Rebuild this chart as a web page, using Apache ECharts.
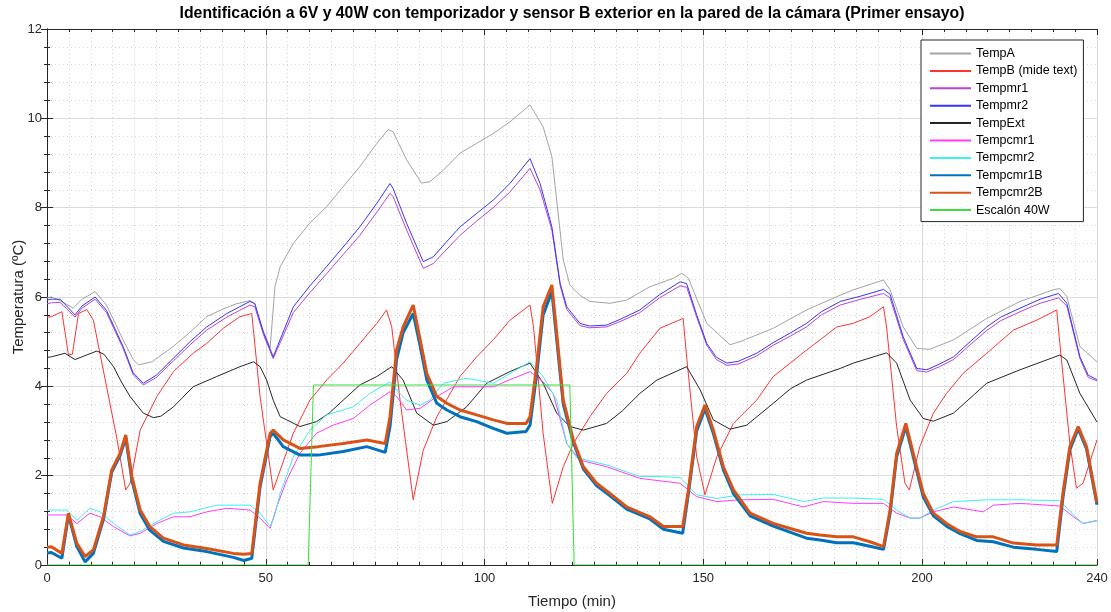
<!DOCTYPE html>
<html>
<head>
<meta charset="utf-8">
<script src="https://cdn.jsdelivr.net/npm/echarts@6/dist/echarts.min.js"></script>
<style>
  html, body { margin: 0; padding: 0; background: #fff; }
  #chart { width: 1111px; height: 612px; }
</style>
</head>
<body>
<div id="chart"></div>
<script>
// series data: [tiempo (min), temperatura (ºC)]
var tempA = [[0,5.98],[1,6.0],[3,5.92],[6,5.75],[8,5.95],[11,6.12],[13.6,5.82],[17.4,5.04],[19.7,4.6],[20.9,4.48],[24,4.55],[28.8,4.89],[32,5.15],[36.5,5.56],[40,5.72],[43,5.84],[46.4,5.92],[47.5,5.85],[49,5.35],[51,4.86],[52.1,6.23],[53.3,6.68],[56.3,7.2],[60.1,7.66],[63.9,8.02],[67.7,8.47],[71.5,8.92],[75.4,9.44],[78,9.75],[79.1,9.7],[82.2,9.07],[85.6,8.55],[87.5,8.58],[90.6,8.84],[94.4,9.22],[98.2,9.44],[102,9.66],[105.8,9.92],[110.4,10.3],[113.4,9.81],[115.4,9.14],[116.5,8.17],[118,6.83],[119.5,6.27],[121.8,6.04],[124.1,5.9],[128.7,5.86],[132.5,5.93],[137.8,6.23],[143.2,6.42],[145.1,6.53],[146.6,6.42],[150.8,5.41],[156.1,4.93],[158.4,5.0],[166,5.3],[173.6,5.71],[181.3,6.04],[184.3,6.16],[191.2,6.38],[192.7,6.16],[195.7,5.33],[198.8,4.85],[201.8,4.83],[207.2,5.04],[214.8,5.52],[222.4,5.9],[230,6.16],[231.5,6.19],[233.1,6.01],[236.1,4.89],[240,4.55]];

var tempB = [[0,5.55],[1,5.56],[3.4,5.67],[4.9,4.7],[5.8,4.72],[7.2,5.63],[9.1,5.72],[10.6,5.48],[13.6,4.0],[15.9,2.87],[18,1.68],[19,1.83],[21.3,3.02],[25.1,3.77],[28.9,4.33],[33.4,4.74],[36.5,4.96],[40.3,5.3],[44.1,5.56],[46.8,5.63],[48.7,3.77],[51.7,1.68],[56.3,2.95],[60.1,3.69],[63.9,4.14],[67.7,4.52],[71.5,4.96],[75.4,5.41],[77.6,5.71],[78.8,5.33],[80.7,3.69],[83.7,1.46],[86,2.57],[89.1,3.32],[94.4,4.22],[98.2,4.66],[102,5.04],[105.8,5.48],[110.4,5.82],[111.2,5.33],[113.4,2.95],[115.5,1.38],[118,2.2],[120.3,2.72],[124.1,3.32],[127.9,3.84],[132.5,4.29],[135.5,4.74],[140.1,5.3],[145.4,5.52],[146.2,4.66],[148.5,2.42],[150.4,1.57],[153.1,2.42],[156.9,3.17],[162.2,3.69],[166,4.22],[173.6,4.81],[176.7,5.04],[180.5,5.33],[184.3,5.41],[188.1,5.56],[191.2,5.78],[191.9,5.33],[194.2,3.1],[196.1,1.83],[197.1,1.68],[199.5,2.65],[202.6,3.4],[205.6,3.84],[209.4,4.29],[214.8,4.74],[220.9,5.26],[226.2,5.48],[230.8,5.71],[231.5,4.96],[233.8,2.72],[235.3,1.72],[236.8,1.83],[240,2.8]];

var tempMr1 = [[0,5.85],[1,5.87],[3,5.88],[6.4,5.55],[8,5.75],[11,5.95],[13.6,5.65],[17.4,4.85],[19.7,4.26],[22,4.03],[25,4.2],[28.9,4.57],[32.7,4.93],[36.5,5.26],[41.1,5.55],[44,5.7],[46.4,5.82],[47.5,5.78],[49.5,5.15],[51.7,4.62],[56.3,5.65],[60.1,6.1],[63.9,6.52],[67.7,6.95],[71.5,7.38],[75.4,7.9],[78.4,8.32],[79.1,8.25],[82.2,7.5],[86,6.64],[88.3,6.75],[91,7.03],[94.4,7.38],[98.2,7.7],[102,8.0],[105.8,8.35],[110.4,8.88],[112.7,8.4],[115.4,7.5],[117.3,6.25],[118.8,5.72],[121.8,5.36],[124,5.31],[127.9,5.33],[131,5.45],[135.5,5.65],[140,5.98],[144.7,6.25],[146.2,6.22],[148.5,5.55],[150.8,4.92],[153,4.6],[155.4,4.47],[158,4.5],[162.2,4.68],[166,4.92],[170,5.13],[173.6,5.33],[177,5.6],[181.3,5.82],[186,5.95],[191.2,6.08],[192.7,5.98],[195.7,5.05],[198.8,4.35],[201.1,4.32],[204,4.44],[207.2,4.6],[211,4.93],[214.8,5.25],[218,5.47],[222.4,5.67],[227,5.86],[231.2,5.98],[233.1,5.8],[236.1,4.62],[238,4.2],[240,4.12]];

var tempMr2 = [[0,5.93],[1,5.95],[3,5.95],[6.4,5.6],[8,5.8],[11,6.0],[13.6,5.7],[17.4,4.89],[19.7,4.3],[22,4.07],[25,4.25],[28.9,4.63],[32.7,5.0],[36.5,5.33],[41.1,5.63],[44,5.78],[46.4,5.9],[47.5,5.85],[49.5,5.2],[51.7,4.66],[56.3,5.78],[60.1,6.25],[63.9,6.68],[67.7,7.12],[71.5,7.57],[75.4,8.1],[78.4,8.54],[79.1,8.43],[82.2,7.65],[86,6.79],[88.3,6.9],[91,7.2],[94.4,7.57],[98.2,7.87],[102,8.17],[105.8,8.54],[110.4,9.1],[112.7,8.54],[115.4,7.57],[117.3,6.3],[118.8,5.78],[121.8,5.41],[124,5.35],[127.9,5.37],[131,5.5],[135.5,5.71],[140,6.05],[144.7,6.34],[146.2,6.3],[148.5,5.6],[150.8,4.96],[153,4.65],[155.4,4.52],[158,4.56],[162.2,4.74],[166,4.98],[170,5.2],[173.6,5.41],[177,5.67],[181.3,5.9],[186,6.02],[191.2,6.17],[192.7,6.06],[195.7,5.11],[198.8,4.4],[201.1,4.37],[204,4.5],[207.2,4.66],[211,5.0],[214.8,5.33],[218,5.55],[222.4,5.75],[227,5.95],[231.2,6.08],[233.1,5.86],[236.1,4.66],[238,4.25],[240,4.15]];

var tempExt = [[0,4.65],[1,4.66],[4.1,4.74],[6.4,4.6],[11.4,4.79],[13,4.72],[15.2,4.44],[17,4.1],[19,3.77],[22,3.4],[24.3,3.3],[26,3.33],[28.9,3.54],[31,3.75],[33.4,3.99],[38.8,4.22],[44.1,4.44],[47.2,4.55],[48.7,4.44],[50.2,4.14],[51.7,3.69],[53.3,3.32],[54.8,3.25],[57.8,3.1],[61.6,3.21],[64.5,3.4],[67.7,3.69],[71.5,4.03],[75.4,4.22],[78.8,4.44],[81.4,4.14],[84.5,3.4],[88.3,3.13],[91.4,3.21],[95.9,3.54],[100.5,4.07],[105.8,4.33],[110.4,4.52],[113.4,4.07],[116.5,3.4],[119.5,3.1],[122.6,3.02],[127.9,3.17],[131.5,3.45],[135.5,3.84],[139.4,4.14],[146.2,4.44],[149.3,3.92],[152.3,3.25],[156.1,3.04],[159.9,3.13],[166,3.62],[170,3.95],[173.6,4.14],[181.3,4.4],[184.3,4.52],[191.9,4.75],[194.2,4.52],[197.3,3.69],[200.3,3.28],[202.6,3.22],[207.2,3.4],[214.8,4.07],[222.4,4.37],[231.5,4.7],[233.1,4.59],[236.1,3.84],[240,3.2]];

var tempCmr1 = [[0,1.12],[1,1.12],[4.6,1.12],[6.8,0.93],[9.8,1.16],[12.1,1.08],[15.2,0.86],[19,0.65],[21.3,0.71],[25.1,0.93],[28.9,1.08],[32.7,1.08],[36.5,1.19],[41.1,1.27],[46.4,1.23],[48.7,1.05],[51,0.82],[52.5,1.3],[54.8,1.9],[57.8,2.5],[61.6,2.95],[65.4,3.13],[70,3.28],[73.8,3.58],[78.4,3.88],[79.9,3.77],[82.2,3.47],[85.3,3.51],[89.1,3.77],[92.9,3.99],[98.2,3.99],[102,3.99],[106.6,4.18],[110.4,4.33],[113.4,4.1],[115.7,3.84],[118.8,2.72],[121.8,2.35],[127.9,2.2],[135.5,1.94],[144.7,1.83],[148.5,1.53],[153.1,1.42],[158.4,1.46],[166,1.47],[172.9,1.3],[177.4,1.42],[184.3,1.38],[191.2,1.38],[194.2,1.16],[197.3,1.05],[199.5,1.05],[202.6,1.19],[207.2,1.3],[214,1.19],[216.3,1.34],[222.4,1.38],[231.5,1.32],[234.6,1.08],[236.8,0.93],[240,0.99]];

var tempCmr2 = [[0,1.23],[1,1.23],[4.6,1.23],[6.8,1.0],[9.8,1.27],[12.1,1.19],[15.2,0.93],[19,0.67],[21.3,0.75],[25.1,0.97],[28.9,1.16],[32.7,1.19],[38.8,1.34],[46.4,1.34],[48.7,1.16],[51,0.86],[52,1.1],[53.3,1.6],[56.3,2.42],[60.1,3.02],[63.9,3.36],[70,3.54],[73.8,3.84],[78.4,4.1],[79.9,3.92],[82.2,3.69],[85.3,3.58],[87.5,3.69],[90.6,4.07],[95.9,4.18],[102,4.07],[106.6,4.33],[110.4,4.55],[113.4,4.22],[116.5,3.69],[118.8,2.72],[121.1,2.4],[127.9,2.24],[135.5,1.98],[139.4,1.98],[144.7,1.96],[148.5,1.57],[153.1,1.49],[158.4,1.57],[166,1.58],[172.9,1.42],[177.4,1.5],[184.3,1.5],[191.2,1.47],[194.2,1.23],[197.3,1.05],[199.5,1.05],[202.6,1.23],[207.2,1.42],[214.8,1.46],[222.4,1.46],[231.5,1.44],[234.6,1.12],[236.8,0.93],[240,1.0]];

var tempCmr1B = [[0,0.27],[1,0.28],[3.4,0.15],[4.9,1.12],[6.8,0.42],[8.7,0.07],[10.6,0.26],[12.9,1.02],[14.8,2.08],[16.7,2.45],[18,2.85],[19.4,1.9],[21.3,1.15],[23.5,0.78],[26.6,0.53],[31.2,0.38],[36.5,0.3],[42.6,0.17],[45,0.1],[46.8,0.15],[48.7,1.75],[51,2.88],[51.7,2.95],[54,2.65],[57.8,2.46],[62,2.46],[67.7,2.54],[73.1,2.65],[77.3,2.52],[78.4,3.1],[79.9,4.6],[81.4,5.2],[83.7,5.63],[85.3,4.9],[86.8,4.15],[89.1,3.62],[91.4,3.47],[94.4,3.32],[98.2,3.21],[102,3.06],[105.1,2.95],[109.5,2.99],[110.4,3.13],[111.9,4.25],[113.4,5.6],[115.4,6.12],[116.5,5.05],[118,3.6],[120.3,2.75],[122.6,2.15],[125.6,1.78],[128.7,1.55],[132.5,1.25],[137.8,1.03],[140.9,0.8],[145.3,0.71],[146.6,1.6],[148.5,3.0],[150.4,3.5],[152.3,2.95],[154.6,2.13],[156.9,1.6],[160.7,1.1],[166,0.87],[173.6,0.6],[176.7,0.56],[180.5,0.5],[184.3,0.5],[188.1,0.42],[191.2,0.35],[192.7,1.15],[194.2,2.42],[196.3,3.1],[198,2.42],[200.3,1.52],[202.6,1.1],[205.6,0.87],[208.7,0.7],[212.5,0.55],[216.3,0.52],[220.9,0.4],[226.2,0.35],[230.8,0.3],[232.2,1.5],[233.8,2.58],[235.7,3.05],[237.6,2.6],[240,1.35]];

var tempCmr2B = [[0,0.4],[1,0.41],[3.4,0.26],[4.9,1.16],[6.8,0.49],[8.7,0.19],[10.6,0.34],[12.9,1.08],[14.8,2.13],[16.7,2.5],[18,2.91],[19.4,1.98],[21.3,1.23],[23.5,0.86],[26.6,0.6],[31.2,0.45],[36.5,0.37],[42.6,0.26],[45,0.24],[46.8,0.26],[48.7,1.83],[51,2.95],[51.7,3.02],[54,2.8],[57.8,2.61],[62,2.65],[67.7,2.72],[73.1,2.8],[77.3,2.72],[78.4,3.32],[79.9,4.81],[81.4,5.33],[83.7,5.82],[85.3,5.04],[86.8,4.29],[89.1,3.77],[91.4,3.62],[94.4,3.47],[98.2,3.36],[102,3.25],[105.1,3.17],[109.5,3.17],[110.4,3.32],[111.9,4.44],[113.4,5.78],[115.4,6.27],[116.5,5.19],[118,3.69],[120.3,2.8],[122.6,2.2],[125.6,1.83],[128.7,1.6],[132.5,1.3],[137.8,1.08],[140.9,0.86],[145.3,0.86],[146.6,1.68],[148.5,3.1],[150.4,3.58],[152.3,3.02],[154.6,2.2],[156.9,1.68],[160.7,1.16],[166,0.93],[173.6,0.71],[176.7,0.67],[180.5,0.63],[184.3,0.63],[188.1,0.52],[191.2,0.41],[192.7,1.23],[194.2,2.5],[196.3,3.17],[198,2.5],[200.3,1.6],[202.6,1.16],[205.6,0.93],[208.7,0.75],[212.5,0.63],[216.3,0.63],[220.9,0.49],[226.2,0.45],[230.8,0.45],[232.2,1.6],[233.8,2.65],[235.7,3.1],[237.6,2.65],[240,1.4]];

var escalon40W = [[0,0],[59.7,0],[60.9,4.03],[119.5,4.03],[120.5,0],[240,0]];

var seriesNames = ['TempA', 'TempB (mide text)', 'Tempmr1', 'Tempmr2', 'TempExt', 'Tempcmr1', 'Tempcmr2', 'Tempcmr1B', 'Tempcmr2B', 'Escalón 40W'];
var seriesData = [tempA, tempB, tempMr1, tempMr2, tempExt, tempCmr1, tempCmr2, tempCmr1B, tempCmr2B, escalon40W];
var seriesColors = ['#a3a3a3', '#ff3333', '#b844d4', '#3535ff', '#262626', '#ff3cff', '#3cf0f0', '#0072bd', '#d95319', '#3cdc3c'];
var seriesWidths = [1, 1, 1, 1, 1, 1, 1, 3, 3, 1];

var fontFam = '"Liberation Sans", Arial, Helvetica, sans-serif';
var axisColor = '#262626';

var myChart = echarts.init(document.getElementById('chart'));

var series = seriesNames.map(function (name, i) {
    return {
        name: name,
        type: 'line',
        xAxisIndex: 0,
        yAxisIndex: 0,
        data: seriesData[i],
        symbol: 'none',
        showSymbol: false,
        smooth: false,
        lineStyle: { color: seriesColors[i], width: seriesWidths[i] },
        itemStyle: { color: seriesColors[i] },
        z: 3 + i
    };
});

var option = {
    backgroundColor: '#ffffff',
    animation: false,
    textStyle: { fontFamily: fontFam },
    graphic: [{
        type: 'text',
        x: 572,
        y: 14,
        style: {
            text: 'Identificación a 6V y 40W con temporizador y sensor B exterior en la pared de la cámara (Primer ensayo)',
            fill: '#000',
            font: 'bold 15.8px ' + fontFam,
            textAlign: 'center',
            textVerticalAlign: 'middle'
        }
    }],
    grid: { left: 47, right: 14, top: 29, bottom: 47, containLabel: false, outerBoundsMode: 'none' },
    legend: {
        orient: 'vertical',
        left: 921,
        top: 40,
        itemWidth: 41,
        itemHeight: 14,
        itemGap: 4.4,
        padding: [7, 6, 5, 8],
        backgroundColor: '#ffffff',
        borderColor: axisColor,
        borderWidth: 1,
        borderRadius: 0,
        itemStyle: { opacity: 0 },
        textStyle: { fontSize: 12.5, color: '#000', fontFamily: fontFam },
        data: seriesNames
    },
    xAxis: [{
        type: 'value', min: 0, max: 240, interval: 50, position: 'bottom',
        name: 'Tiempo (min)', nameLocation: 'middle', nameGap: 29,
        nameTextStyle: { fontSize: 15, color: axisColor },
        axisLine: { show: true, lineStyle: { color: axisColor, width: 1 } },
        axisTick: { show: true, inside: true, length: 6, lineStyle: { color: axisColor } },
        axisLabel: { fontSize: 13, color: axisColor, margin: 7 },
        splitLine: { show: true, lineStyle: { color: '#dcdcdc', width: 1 } }
    }, {
        type: 'value', min: 0, max: 240, interval: 5, position: 'bottom',
        axisLine: { show: false },
        axisTick: { show: true, inside: true, length: 3, lineStyle: { color: axisColor } },
        axisLabel: { show: false },
        splitLine: { show: true, lineStyle: { color: '#d4d4d4', width: 1, type: [1, 3] } }
    }, {
        type: 'value', min: 0, max: 240, interval: 50, position: 'top',
        axisLine: { show: true, lineStyle: { color: axisColor, width: 1 } },
        axisTick: { show: true, inside: true, length: 6, lineStyle: { color: axisColor } },
        axisLabel: { show: false },
        splitLine: { show: false }
    }, {
        type: 'value', min: 0, max: 240, interval: 5, position: 'top',
        axisLine: { show: false },
        axisTick: { show: true, inside: true, length: 3, lineStyle: { color: axisColor } },
        axisLabel: { show: false },
        splitLine: { show: false }
    }],
    yAxis: [{
        type: 'value', min: 0, max: 12, interval: 2, position: 'left',
        name: 'Temperatura (ºC)', nameLocation: 'middle', nameGap: 21, nameRotate: 90,
        nameMoveOverlap: false,
        nameTextStyle: { fontSize: 15, color: axisColor },
        axisLine: { show: true, lineStyle: { color: axisColor, width: 1 } },
        axisTick: { show: true, inside: true, length: 6, lineStyle: { color: axisColor } },
        minorTick: { show: true, splitNumber: 5, length: 3, lineStyle: { color: axisColor } },
        axisLabel: { fontSize: 13, color: axisColor, margin: 5 },
        splitLine: { show: true, lineStyle: { color: '#dcdcdc', width: 1 } },
        minorSplitLine: { show: true, lineStyle: { color: '#d4d4d4', width: 1, type: [1, 3] } }
    }, {
        type: 'value', min: 0, max: 12, interval: 2, position: 'right',
        axisLine: { show: true, lineStyle: { color: axisColor, width: 1 } },
        axisTick: { show: true, inside: true, length: 6, lineStyle: { color: axisColor } },
        minorTick: { show: true, splitNumber: 5, length: 3, lineStyle: { color: axisColor } },
        axisLabel: { show: false },
        splitLine: { show: false }
    }],
    series: series
};

myChart.setOption(option);
</script>
</body>
</html>
